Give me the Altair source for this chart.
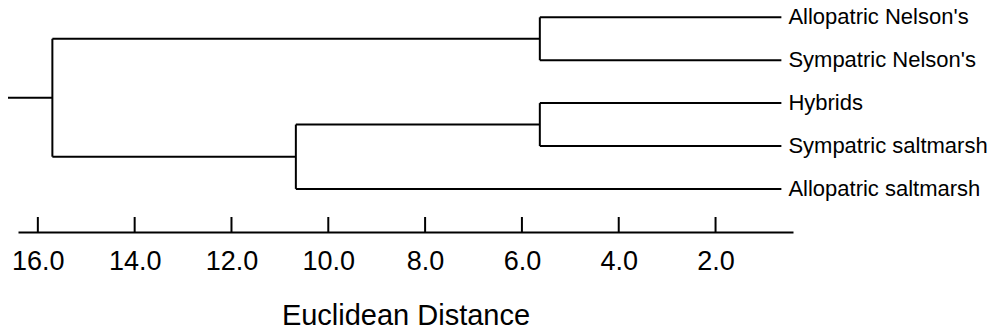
import altair as alt
import pandas as pd

# Leaves (top to bottom)
leaf_labels = ["Allopatric Nelson's", "Sympatric Nelson's", "Hybrids",
               "Sympatric saltmarsh", "Allopatric saltmarsh"]
leaf_height = 0.64
# Merges: (left child, right child, distance); nodes 0-4 are leaves, new nodes numbered from 5
merges = [(0, 1, 5.63), (2, 3, 5.63), (6, 4, 10.67), (5, 7, 15.70)]
root_stub_start = 16.64
tick_values = [16.0, 14.0, 12.0, 10.0, 8.0, 6.0, 4.0, 2.0]
axis_domain = [0.40, 16.41]

# Build dendrogram segments from the linkage
node_pos = {i: float(i) for i in range(len(leaf_labels))}
node_h = {i: leaf_height for i in range(len(leaf_labels))}
segs = []
nid = len(leaf_labels)
for a, b, d in merges:
    for c in (a, b):
        segs.append({"x": node_h[c], "x2": d, "y": node_pos[c], "y2": node_pos[c]})
    segs.append({"x": d, "x2": d, "y": node_pos[a], "y2": node_pos[b]})
    node_pos[nid] = (node_pos[a] + node_pos[b]) / 2
    node_h[nid] = d
    nid += 1
root = nid - 1
segs.append({"x": node_h[root], "x2": root_stub_start, "y": node_pos[root], "y2": node_pos[root]})
seg_df = pd.DataFrame(segs)

leaf_df = pd.DataFrame({"label": leaf_labels,
                        "x": [leaf_height] * len(leaf_labels),
                        "y": list(range(len(leaf_labels)))})
tick_df = pd.DataFrame({"t": tick_values})

FONT = "Liberation Sans"
W, H = 775, 224

xscale = alt.Scale(domain=axis_domain, reverse=True, nice=False, zero=False)
yscale = alt.Scale(domain=[-0.217, 5.005], reverse=True, nice=False, zero=False)

lines = alt.Chart(seg_df).mark_rule(color="black", strokeWidth=2).encode(
    x=alt.X("x:Q", scale=xscale,
            axis=alt.Axis(values=tick_values, format=".1f", title="Euclidean Distance",
                          grid=False, ticks=False, tickSize=0,
                          domainColor="black", domainWidth=2,
                          labelFont=FONT, labelFontSize=27, labelColor="black",
                          labelPadding=16,
                          titleFont=FONT, titleFontSize=29, titleFontWeight="normal",
                          titleColor="black", titlePadding=27)),
    x2="x2:Q",
    y=alt.Y("y:Q", scale=yscale, axis=None),
    y2="y2:Q",
)

ticks = alt.Chart(tick_df).mark_rule(color="black", strokeWidth=2).encode(
    x=alt.X("t:Q", scale=xscale),
    y=alt.value(H - 15),
    y2=alt.value(H),
)

labels = alt.Chart(leaf_df).mark_text(align="left", baseline="middle", dx=7,
                                      font=FONT, fontSize=22, color="black").encode(
    x=alt.X("x:Q", scale=xscale),
    y=alt.Y("y:Q", scale=yscale, axis=None),
    text="label:N",
)

chart = alt.layer(lines, ticks, labels).properties(
    width=W, height=H,
    autosize=alt.AutoSizeParams(type="none"),
    padding={"left": 10, "top": 0, "right": 200, "bottom": 95},
    view=alt.ViewBackground(stroke=None, fill="white"),
).configure_view(stroke=None).configure_axis(grid=False).configure(background="white")

chart.save("out.html", embed_options={"renderer": "svg", "actions": False})
